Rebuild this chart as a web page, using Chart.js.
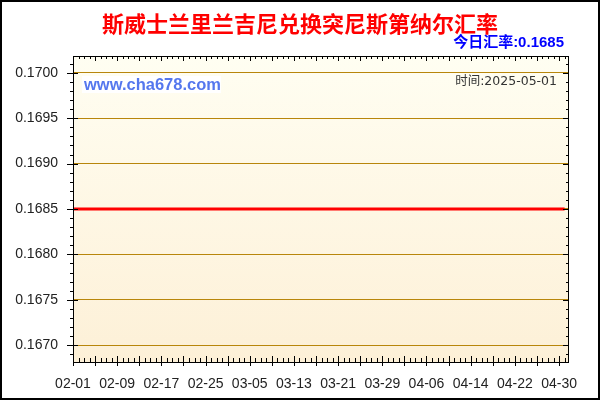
<!DOCTYPE html>
<html><head><meta charset="utf-8">
<script src="https://cdn.jsdelivr.net/npm/chart.js@4"></script>
<style>html,body{margin:0;padding:0;background:#fff}#wrap{width:600px;height:400px;position:relative}</style>
</head><body><div id="wrap"><canvas id="c"></canvas></div>
<script>
const categories = [
'02-01','02-02','02-03','02-04','02-05','02-06','02-07','02-08','02-09','02-10','02-11','02-12','02-13','02-14','02-15','02-16','02-17','02-18','02-19','02-20','02-21','02-22','02-23','02-24','02-25','02-26','02-27','02-28',
'03-01','03-02','03-03','03-04','03-05','03-06','03-07','03-08','03-09','03-10','03-11','03-12','03-13','03-14','03-15','03-16','03-17','03-18','03-19','03-20','03-21','03-22','03-23','03-24','03-25','03-26','03-27','03-28','03-29','03-30','03-31',
'04-01','04-02','04-03','04-04','04-05','04-06','04-07','04-08','04-09','04-10','04-11','04-12','04-13','04-14','04-15','04-16','04-17','04-18','04-19','04-20','04-21','04-22','04-23','04-24','04-25','04-26','04-27','04-28','04-29','04-30',
'05-01'];
const rates = [
0.1685,0.1685,0.1685,0.1685,0.1685,0.1685,0.1685,0.1685,0.1685,0.1685,0.1685,0.1685,0.1685,0.1685,0.1685,0.1685,0.1685,0.1685,0.1685,0.1685,0.1685,0.1685,0.1685,0.1685,0.1685,0.1685,0.1685,0.1685,
0.1685,0.1685,0.1685,0.1685,0.1685,0.1685,0.1685,0.1685,0.1685,0.1685,0.1685,0.1685,0.1685,0.1685,0.1685,0.1685,0.1685,0.1685,0.1685,0.1685,0.1685,0.1685,0.1685,0.1685,0.1685,0.1685,0.1685,0.1685,0.1685,0.1685,0.1685,
0.1685,0.1685,0.1685,0.1685,0.1685,0.1685,0.1685,0.1685,0.1685,0.1685,0.1685,0.1685,0.1685,0.1685,0.1685,0.1685,0.1685,0.1685,0.1685,0.1685,0.1685,0.1685,0.1685,0.1685,0.1685,0.1685,0.1685,0.1685,0.1685,0.1685,
0.1685];
const yTickValues = [0.1670,0.1675,0.1680,0.1685,0.1690,0.1695,0.1700];
const xTickLabels = ['02-01','02-09','02-17','02-25','03-05','03-13','03-21','03-29','04-06','04-14','04-22','04-30'];
const titleText = '斯威士兰里兰吉尼兑换突尼斯第纳尔汇率';
const rateText = '今日汇率:0.1685';
const siteText = 'www.cha678.com';
const timeText = '时间:2025-05-01';
const yMin = 0.166815, yMax = 0.170185;

const deco = {
  id: 'deco',
  beforeDraw(chart) {
    const {ctx, chartArea: a} = chart;
    ctx.save();
    ctx.fillStyle = '#fff';
    ctx.fillRect(0, 0, chart.width, chart.height);
    const g = ctx.createLinearGradient(0, a.top, 0, a.bottom);
    g.addColorStop(0, '#FFFEF2');
    g.addColorStop(1, '#FDF0D7');
    ctx.fillStyle = g;
    ctx.fillRect(a.left, a.top, a.right - a.left, a.bottom - a.top);
    ctx.restore();
  },
  afterDraw(chart) {
    const {ctx, chartArea: a, scales} = chart;
    const xs = scales.x, ys = scales.y;
    ctx.save();
    ctx.strokeStyle = '#000';
    ctx.lineWidth = 1;
    ctx.strokeRect(Math.round(a.left) + 0.5, Math.round(a.top) + 0.5, Math.round(a.right - a.left) - 1, Math.round(a.bottom - a.top));
    ctx.beginPath();
    for (let i = 0; i < categories.length; i++) {
      const x = Math.round(xs.getPixelForValue(i)) + 0.5;
      const major = i % 4 === 0;
      ctx.moveTo(x, a.bottom - (major ? 6 : 4));
      ctx.lineTo(x, a.bottom + (major ? 4 : 0));
      ctx.moveTo(x, a.top);
      ctx.lineTo(x, a.top + (major ? 5 : 3));
    }
    for (let k = 1669; k <= 1701; k++) {
      const v = k / 10000;
      const y = Math.round(ys.getPixelForValue(v)) + 0.5;
      const major = k % 5 === 0;
      ctx.moveTo(a.left - (major ? 6 : 3), y);
      ctx.lineTo(a.left + (major ? 5 : 0), y);
      ctx.moveTo(a.right, y);
      ctx.lineTo(a.right - (major ? 6 : 3), y);
    }
    ctx.stroke();
    ctx.lineWidth = 2;
    ctx.strokeRect(1, 1, chart.width - 2, chart.height - 2);

    ctx.textBaseline = 'middle';
    ctx.fillStyle = '#FF0000';
    ctx.textAlign = 'center';
    ctx.font = 'bold 22px "Noto Sans CJK SC", sans-serif';
    ctx.fillText(titleText, 300, 24);

    ctx.fillStyle = '#0000FF';
    ctx.textAlign = 'right';
    ctx.font = 'bold 15px "Liberation Sans", "Noto Sans CJK SC", sans-serif';
    ctx.fillText(rateText, 564, 43);

    ctx.fillStyle = '#FFFFFF';
    ctx.fillRect(82, 76, 139, 17);
    ctx.fillStyle = '#5577EE';
    ctx.textAlign = 'left';
    ctx.font = 'bold 16.5px "Liberation Sans", sans-serif';
    ctx.fillText(siteText, 84, 85);

    ctx.fillStyle = '#333';
    ctx.textAlign = 'right';
    ctx.font = '12.5px "DejaVu Sans", "Noto Sans CJK SC", sans-serif';
    ctx.fillText(timeText, 557, 82);
    ctx.restore();
  }
};

new Chart(document.getElementById('c'), {
  type: 'line',
  data: {
    datasets: [{
      data: rates.map((v, i) => ({x: i, y: v})),
      borderColor: '#FF0000',
      borderWidth: 3,
      pointRadius: 0,
      tension: 0,
      fill: false
    }]
  },
  options: {
    responsive: true,
    maintainAspectRatio: false,
    animation: false,
    events: [],
    layout: {padding: {left: 0, top: 56, right: 31, bottom: 0}},
    plugins: {legend: {display: false}, tooltip: {enabled: false}, title: {display: false}},
    scales: {
      x: {
        type: 'linear',
        min: 0,
        max: 89.8,
        afterBuildTicks: s => { s.ticks = xTickLabels.map(l => ({value: categories.indexOf(l)})); },
        afterFit: s => { s.height = 38; },
        ticks: {
          callback: v => categories[v],
          autoSkip: false, maxRotation: 0, padding: 6,
          color: '#222',
          font: {family: '"Liberation Sans", Arial, sans-serif', size: 14}
        },
        grid: {display: false},
        border: {display: false}
      },
      y: {
        min: yMin,
        max: yMax,
        afterBuildTicks: s => { s.ticks = yTickValues.map(v => ({value: v})); },
        afterFit: s => { s.width = 73; },
        ticks: {
          callback: v => v.toFixed(4),
          padding: 15,
          color: '#222',
          font: {family: '"Liberation Sans", Arial, sans-serif', size: 14}
        },
        grid: {color: '#B8860B', lineWidth: 1, drawTicks: false},
        border: {display: false}
      }
    }
  },
  plugins: [deco]
});
</script>
</body></html>
